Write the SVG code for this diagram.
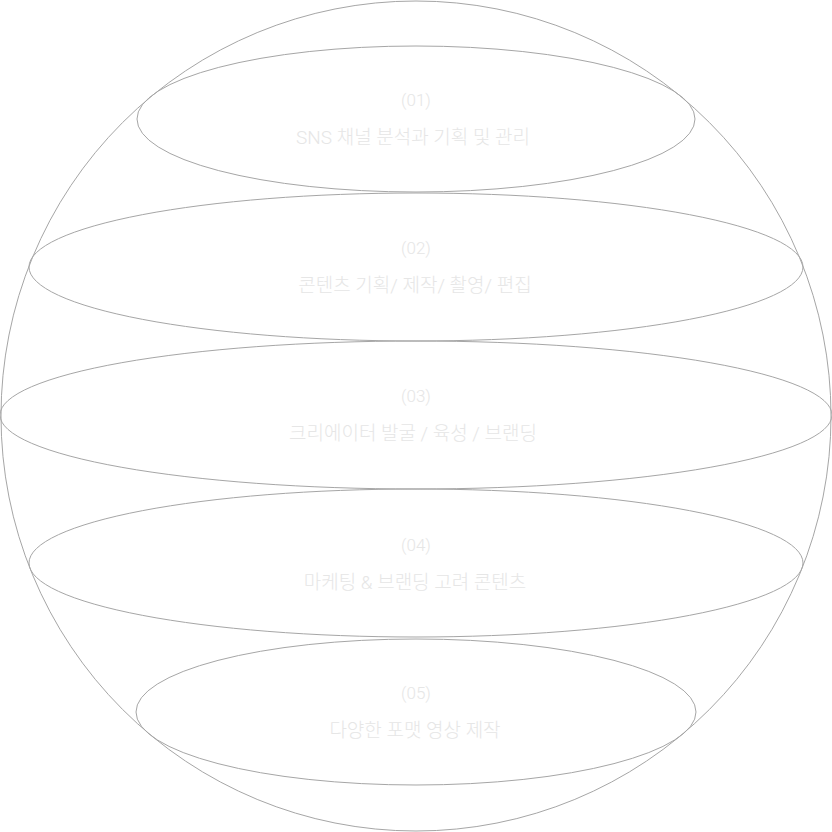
<svg xmlns="http://www.w3.org/2000/svg" width="832" height="832" viewBox="0 0 832 832">
<style>
.ln{fill:none;stroke:#a6a6a6;stroke-width:1}
.num{font-family:Roboto,"Noto Sans CJK KR",sans-serif;font-size:17px;font-weight:300;fill:#e6e6e6;text-anchor:middle}
.lbl{font-family:Roboto,"Noto Sans CJK KR",sans-serif;font-size:19px;font-weight:300;fill:#e6e6e6;text-anchor:middle}
</style>
<rect width="832" height="832" fill="#ffffff"/>
<g id="sphere"><circle class="ln" cx="416" cy="416" r="415"/></g>
<g id="n1"><ellipse class="ln" cx="416" cy="119" rx="279" ry="73"/><text class="num" x="416" y="106">(01)</text><text class="lbl" x="413" y="144">SNS 채널 분석과 기획 및 관리</text></g>
<g id="n2"><ellipse class="ln" cx="416" cy="267" rx="387" ry="74"/><text class="num" x="416" y="254">(02)</text><text class="lbl" x="415" y="292">콘텐츠 기획/ 제작/ 촬영/ 편집</text></g>
<g id="n3"><ellipse class="ln" cx="416" cy="415" rx="416" ry="74"/><text class="num" x="416" y="402">(03)</text><text class="lbl" x="413" y="440">크리에이터 발굴 / 육성 / 브랜딩</text></g>
<g id="n4"><ellipse class="ln" cx="416" cy="563" rx="387" ry="74"/><text class="num" x="416" y="551">(04)</text><text class="lbl" x="415" y="589">마케팅 &amp; 브랜딩 고려 콘텐츠</text></g>
<g id="n5"><ellipse class="ln" cx="416" cy="712" rx="280" ry="73"/><text class="num" x="416" y="699">(05)</text><text class="lbl" x="415" y="737">다양한 포맷 영상 제작</text></g>
</svg>
